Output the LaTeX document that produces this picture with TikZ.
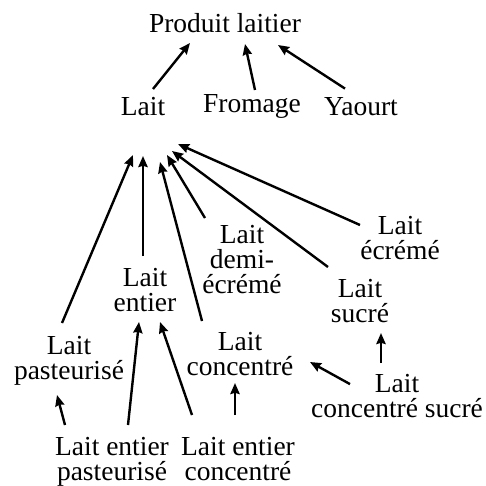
\documentclass[tikz,border=0pt]{standalone}
\usepackage{fontspec}
\setmainfont{Liberation Serif}
\usetikzlibrary{positioning,arrows.meta}

\begin{document}
\begin{tikzpicture}[->,>={Stealth[length=5.5pt,width=4.6pt,inset=0.6pt]},line width=1.2pt,node distance=40pt,
    main node/.style={align=center,inner sep=0pt,font=\fontsize{13.75}{12.5}\selectfont}]

    \node[main node] (produit) []{Produit laitier};
    \useasboundingbox ([xshift=-112.5pt,yshift=11.3pt]produit.center) rectangle ([xshift=130.5pt,yshift=-231.7pt]produit.center);

    \node[main node] (lait) [below of = produit, xshift=-41, yshift=-2]{Lait};
    \node[main node] (fromage) [below of = produit, xshift=13.5, yshift=-2]{Fromage};
    \node[main node] (yaourt) [below of = produit, xshift=68, yshift=-2]{Yaourt};

    \node[main node] (entier) [below of = lait, xshift=1, yshift=-51.7]{Lait\\entier};
    \node[main node] (demi) [below of = lait, xshift=49.5, yshift=-36.7]{Lait\\demi-\\écrémé};
    \node[main node] (ecreme) [below of = lait, xshift=128.5, yshift=-25.5]{Lait\\écrémé};
    \node[main node] (sucre) [below of = lait, xshift=108.5, yshift=-57.2]{Lait\\sucré};

    \node[main node] (pasteur) [below of = entier, xshift=-38, yshift=4.5]{Lait\\pasteurisé};
    \node[main node] (concentre) [below of = entier, xshift=47.5, yshift=8]{Lait\\concentré};
    \node[main node] (csucre) [below of = sucre, xshift=18.5, yshift=-7.3]{Lait\\concentré sucré};

    \node[main node] (epast) [below of = entier, xshift=-16.5, yshift=-46]{Lait entier\\pasteurisé};
    \node[main node] (econc) [below of = concentre, xshift=-1, yshift=-12.5]{Lait entier\\concentré};

    \path
        ([xshift=5pt,yshift=8.8pt]lait.center) edge ([xshift=-17.5pt,yshift=-10.2pt]produit.center)
        ([xshift=1.5pt,yshift=8.3pt]fromage.center) edge ([xshift=10pt,yshift=-10.7pt]produit.center)
        ([xshift=-8pt,yshift=9pt]yaourt.center) edge ([xshift=26.5pt,yshift=-11.2pt]produit.center)

        ([xshift=-3.5pt,yshift=19pt]pasteur.center) edge ([xshift=-5pt,yshift=-24.2pt]lait.center)
        ([xshift=-1pt,yshift=17pt]entier.center) edge ([xshift=0pt,yshift=-24.7pt]lait.center)
        ([xshift=-19pt,yshift=16.5pt]concentre.center) edge ([xshift=8.5pt,yshift=-27.7pt]lait.center)
        ([xshift=-18.5pt,yshift=21pt]demi.center) edge ([xshift=12pt,yshift=-24.2pt]lait.center)
        ([xshift=-16pt,yshift=17pt]sucre.center) edge ([xshift=14.5pt,yshift=-22.2pt]lait.center)
        ([xshift=-20pt,yshift=6.3pt]ecreme.center) edge ([xshift=17.5pt,yshift=-18.7pt]lait.center)

        ([xshift=-23.5pt,yshift=18.5pt]epast.center) edge ([xshift=-6pt,yshift=-17pt]pasteur.center)
        ([xshift=8pt,yshift=18.5pt]epast.center) edge ([xshift=-3pt,yshift=-16pt]entier.center)
        ([xshift=-23pt,yshift=22pt]econc.center) edge ([xshift=7.5pt,yshift=-16pt]entier.center)
        ([xshift=-1.5pt,yshift=22pt]econc.center) edge ([xshift=-2.5pt,yshift=-14.5pt]concentre.center)
        ([xshift=-23.5pt,yshift=5.75pt]csucre.center) edge ([xshift=35pt,yshift=-4pt]concentre.center)
        ([xshift=-8pt,yshift=16.25pt]csucre.center) edge ([xshift=10.5pt,yshift=-16pt]sucre.center)
    ;
\end{tikzpicture}
\end{document}
